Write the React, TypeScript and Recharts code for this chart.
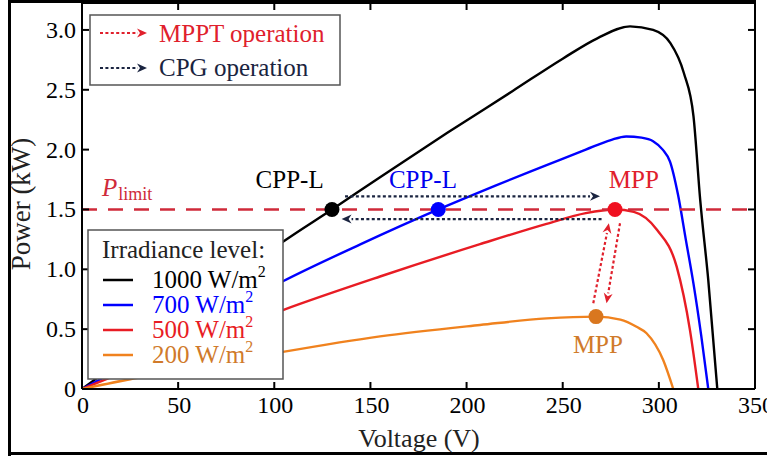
import React from 'react';
import { LineChart, Line, XAxis, YAxis, ReferenceLine, ReferenceDot } from 'recharts';

const FONT = 'Liberation Serif, Times New Roman, serif';
const fontStyle = { fontFamily: FONT };

// ---- axes ----
const xTicks = [0, 50, 100, 150, 200, 250, 300, 350];
const yTicks = [0, 0.5, 1, 1.5, 2, 2.5, 3];
const xDomain = [0, 350];
const yDomain = [0, 3.225];

// ---- P-V curves (voltage V, power kW) ----
const v1000 = [0, 20, 50, 80, 104.5, 130, 155, 190, 224, 250, 268, 285, 297, 306, 313, 318, 321.5, 325.7, 330.4];
const p1000 = [0, 0.235, 0.59, 0.94, 1.23, 1.5, 1.77, 2.14, 2.49, 2.76, 2.93, 3.03, 3.0, 2.89, 2.64, 2.28, 1.58, 0.91, 0];

const v700 = [0, 20, 50, 80, 104.5, 145, 185.3, 215, 241.6, 262, 275, 283, 291, 297, 302, 305.8, 310, 314, 318, 322, 325.7];
const p700 = [0, 0.17, 0.43, 0.69, 0.9, 1.21, 1.5, 1.7, 1.87, 2.0, 2.08, 2.11, 2.1, 2.07, 2.0, 1.9, 1.62, 1.25, 0.88, 0.45, 0];

const v500 = [0, 20, 50, 80, 104.5, 155, 207, 241.6, 262, 277.2, 287, 299, 309.3, 316.2, 320.5];
const p500 = [0, 0.13, 0.32, 0.51, 0.66, 0.94, 1.21, 1.38, 1.47, 1.5, 1.48, 1.33, 1.02, 0.49, 0];

const v200 = [0, 23, 60, 104.5, 155, 207, 241.6, 267.3, 280, 288.4, 293.6, 302.3, 307.5];
const p200 = [0, 0.075, 0.18, 0.31, 0.44, 0.535, 0.59, 0.605, 0.58, 0.52, 0.466, 0.24, 0];

const seriesLabels = ['1000', '700', '500', '200'];
const seriesColors = ['#000000', '#0000ff', '#e81c24', '#f0821e'];
const legendTextColors = ['#000000', '#0000ff', '#e81c24', '#d07a2a'];

// ---- operating points ----
const pLimit = 1.5;
const dotV = [130, 185.3, 277.2, 267.3];
const dotP = [1.5, 1.5, 1.5, 0.605];
const dotColors = ['#000000', '#0000ff', '#f01020', '#d9771f'];

// ---- annotation labels ----
const annTexts = ['CPP-L', 'CPP-L', 'MPP', 'MPP'];
const annV = [108, 177.3, 287, 268.3];
const annP = [1.746, 1.746, 1.746, 0.368];
const annColors = ['#000000', '#0000ee', '#e0202c', '#d07a2a'];
const pLimitLabelV = 10.4;
const pLimitLabelP = 1.613;

// ---- arrows (from -> to) ----
const cpgFromV = [136.8, 270.2];
const cpgFromP = [1.61, 1.42];
const cpgToV = [269.4, 135];
const cpgToP = [1.61, 1.42];
const mpptFromV = [265.9, 279.8];
const mpptFromP = [0.717, 1.385];
const mpptToV = [274.0, 272.8];
const mpptToP = [1.385, 0.717];

const zip = (v: number[], p: number[]) => v.map((x, i) => ({ v: x, p: p[i] }));
const seriesData = [zip(v1000, p1000), zip(v700, p700), zip(v500, p500), zip(v200, p200)];

const NAVY = '#1a2440';
const MPPT_RED = '#e0202c';
const PLIMIT_RED = '#cf2a3a';

const BottomTick = (props: any) => {
  const { x, y, payload } = props;
  return (
    <g>
      <line x1={x} x2={x} y1={y} y2={y - 7} stroke="#000" strokeWidth={2} />
      <text x={x + 1} y={y + 24} textAnchor="middle" fontFamily={FONT} style={fontStyle} fontSize={24} fill="#000">
        {String(payload.value)}
      </text>
    </g>
  );
};
const TopTick = (props: any) => {
  const { x, y } = props;
  return <line x1={x} x2={x} y1={y} y2={y + 7} stroke="#000" strokeWidth={2} />;
};
const LeftTick = (props: any) => {
  const { x, y, payload } = props;
  const v = payload.value as number;
  return (
    <g>
      <line x1={x} x2={x + 7} y1={y} y2={y} stroke="#000" strokeWidth={2} />
      <text x={x - 6} y={y + 8} textAnchor="end" fontFamily={FONT} style={fontStyle} fontSize={24} fill="#000">
        {v === 0 ? '0' : v.toFixed(1)}
      </text>
    </g>
  );
};
const RightTick = (props: any) => {
  const { x, y } = props;
  return <line x1={x} x2={x - 7} y1={y} y2={y} stroke="#000" strokeWidth={2} />;
};

const makeArrow = (color: string) => (props: any) => {
  const { x1, y1, x2, y2 } = props;
  const dx = x2 - x1;
  const dy = y2 - y1;
  const len = Math.hypot(dx, dy) || 1;
  const ux = dx / len;
  const uy = dy / len;
  const hl = 10;
  const hw = 4.5;
  const bx = x2 - ux * hl;
  const by = y2 - uy * hl;
  const px = -uy;
  const py = ux;
  const nx = x2 - ux * (hl - 3);
  const ny = y2 - uy * (hl - 3);
  return (
    <g>
      <line x1={x1} y1={y1} x2={bx} y2={by} stroke={color} strokeWidth={2.2} strokeDasharray="3 2.4" />
      <polygon
        points={`${x2},${y2} ${bx + px * hw},${by + py * hw} ${nx},${ny} ${bx - px * hw},${by - py * hw}`}
        fill={color}
      />
    </g>
  );
};

const LegendArrow = ({ x1, x2, y, color }: { x1: number; x2: number; y: number; color: string }) => (
  <g>
    <line x1={x1} y1={y} x2={x2 - 9} y2={y} stroke={color} strokeWidth={2.2} strokeDasharray="3 2.4" />
    <polygon points={`${x2},${y} ${x2 - 10},${y - 4.5} ${x2 - 7},${y} ${x2 - 10},${y + 4.5}`} fill={color} />
  </g>
);

export default function App() {
  const legendRowsY = [288, 313, 338, 363];
  return (
    <div style={{ position: 'absolute', left: 0, top: 0, width: 767, height: 456, background: '#fff', fontFamily: FONT }}>
      <LineChart width={767} height={456} margin={{ top: 2, right: 11, bottom: 0, left: 0 }} style={fontStyle}>
        <XAxis
          dataKey="v"
          type="number"
          domain={xDomain}
          ticks={xTicks}
          interval={0}
          height={67}
          tickSize={0}
          tickMargin={0}
          tickLine={false}
          axisLine={{ stroke: '#000', strokeWidth: 2 }}
          tick={BottomTick}
          allowDataOverflow
        />
        <XAxis
          xAxisId="top"
          orientation="top"
          dataKey="v"
          type="number"
          domain={xDomain}
          ticks={xTicks}
          interval={0}
          height={1}
          tickSize={0}
          tickMargin={0}
          tickLine={false}
          axisLine={{ stroke: '#000', strokeWidth: 2 }}
          tick={TopTick}
          allowDataOverflow
        />
        <YAxis
          type="number"
          domain={yDomain}
          ticks={yTicks}
          interval={0}
          width={82}
          tickSize={0}
          tickMargin={0}
          tickLine={false}
          axisLine={{ stroke: '#000', strokeWidth: 2 }}
          tick={LeftTick}
          allowDataOverflow
        />
        <YAxis
          yAxisId="right"
          orientation="right"
          type="number"
          domain={yDomain}
          ticks={yTicks}
          interval={0}
          width={1}
          tickSize={0}
          tickMargin={0}
          tickLine={false}
          axisLine={{ stroke: '#000', strokeWidth: 2 }}
          tick={RightTick}
          allowDataOverflow
        />
        {seriesData.map((d, i) => (
          <Line
            key={seriesLabels[i]}
            data={d}
            dataKey="p"
            type="monotone"
            stroke={seriesColors[i]}
            strokeWidth={2.4}
            dot={false}
            activeDot={false}
            isAnimationActive={false}
          />
        ))}
        <ReferenceLine y={pLimit} stroke={PLIMIT_RED} strokeWidth={2.5} strokeDasharray="15 11" />
        {cpgFromV.map((_, i) => (
          <ReferenceLine
            key={'cpg' + i}
            segment={[
              { x: cpgFromV[i], y: cpgFromP[i] },
              { x: cpgToV[i], y: cpgToP[i] },
            ]}
            shape={makeArrow(NAVY)}
            ifOverflow="visible"
          />
        ))}
        {mpptFromV.map((_, i) => (
          <ReferenceLine
            key={'mppt' + i}
            segment={[
              { x: mpptFromV[i], y: mpptFromP[i] },
              { x: mpptToV[i], y: mpptToP[i] },
            ]}
            shape={makeArrow(MPPT_RED)}
            ifOverflow="visible"
          />
        ))}
        {dotV.map((v, i) => (
          <ReferenceDot
            key={'dot' + i}
            x={v}
            y={dotP[i]}
            r={7.5}
            fill={dotColors[i]}
            stroke="none"
            ifOverflow="visible"
          />
        ))}
        {annTexts.map((t, i) => (
          <ReferenceDot
            key={'ann' + i}
            x={annV[i]}
            y={annP[i]}
            r={0}
            ifOverflow="visible"
            shape={(pr: any) => (
              <text
                x={pr.cx}
                y={pr.cy}
                dy={8}
                textAnchor="middle"
                fontFamily={FONT}
                style={fontStyle}
                fontSize={25}
                fill={annColors[i]}
              >
                {t}
              </text>
            )}
          />
        ))}
        <ReferenceDot
          x={pLimitLabelV}
          y={pLimitLabelP}
          r={0}
          ifOverflow="visible"
          shape={(pr: any) => (
            <text x={pr.cx} y={pr.cy} fontFamily={FONT} style={fontStyle} fill={PLIMIT_RED}>
              <tspan fontStyle="italic" fontSize={25}>P</tspan>
              <tspan fontSize={18} dy={4} dx={1}>limit</tspan>
            </text>
          )}
        />
      </LineChart>
      <svg
        width={767}
        height={456}
        style={{ position: 'absolute', left: 0, top: 0, pointerEvents: 'none', fontFamily: FONT }}
      >
        {/* outer frame */}
        <line x1={9.5} y1={0} x2={9.5} y2={456} stroke="#000" strokeWidth={3} />
        <line x1={8} y1={1.5} x2={756} y2={1.5} stroke="#000" strokeWidth={3} />
        <line x1={8} y1={453.5} x2={767} y2={453.5} stroke="#000" strokeWidth={3} />

        {/* axis titles */}
        <text x={419} y={447} textAnchor="middle" fontFamily={FONT} style={fontStyle} fontSize={26} fill="#222">
          Voltage (V)
        </text>
        <text
          transform="translate(30,204) rotate(-90)"
          textAnchor="middle"
          fontFamily={FONT}
          style={fontStyle}
          fontSize={27}
          fill="#222"
        >
          Power (kW)
        </text>

        {/* operation legend */}
        <rect x={90} y={15} width={250} height={70} fill="#fff" stroke="#555" strokeWidth={1.5} />
        <LegendArrow x1={100} x2={147} y={33} color={MPPT_RED} />
        <text x={159} y={42} fontFamily={FONT} style={fontStyle} fontSize={25} fill={MPPT_RED}>
          MPPT operation
        </text>
        <LegendArrow x1={100} x2={147} y={68} color={NAVY} />
        <text x={159} y={76} fontFamily={FONT} style={fontStyle} fontSize={25} fill={NAVY}>
          CPG operation
        </text>

        {/* irradiance legend */}
        <rect x={88} y={230} width={195} height={149} fill="#fff" stroke="#555" strokeWidth={1.5} />
        <text x={102} y={258} fontFamily={FONT} style={fontStyle} fontSize={25} fill="#222">
          Irradiance level:
        </text>
        {seriesLabels.map((s, i) => (
          <g key={'lg' + s}>
            <line
              x1={103}
              x2={133}
              y1={legendRowsY[i] - 8}
              y2={legendRowsY[i] - 8}
              stroke={seriesColors[i]}
              strokeWidth={2.5}
            />
            <text x={152} y={legendRowsY[i]} fontFamily={FONT} style={fontStyle} fontSize={25} fill={legendTextColors[i]}>
              {s + ' W/m'}
              <tspan fontSize={16} dy={-11}>2</tspan>
            </text>
          </g>
        ))}
      </svg>
    </div>
  );
}
